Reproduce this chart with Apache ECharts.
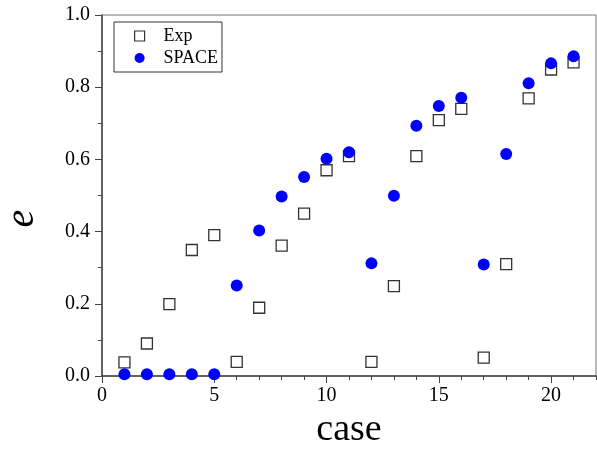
<!DOCTYPE html>
<html>
<head>
<meta charset="utf-8">
<script src="https://cdn.jsdelivr.net/npm/echarts@6/dist/echarts.min.js"></script>
<style>
  html, body { margin: 0; padding: 0; background: #fff; }
  #chart { width: 597px; height: 449px; }
</style>
</head>
<body>
<div id="chart"></div>
<script>
var cases = [1, 2, 3, 4, 5, 6, 7, 8, 9, 10, 11, 12, 13, 14, 15, 16, 17, 18, 19, 20, 21];
var expValues = [0.038, 0.09, 0.199, 0.349, 0.39, 0.039, 0.189, 0.361, 0.45, 0.57, 0.609,
    0.039, 0.249, 0.609, 0.709, 0.74, 0.051, 0.31, 0.769, 0.849, 0.869];
var spaceValues = [0.005, 0.005, 0.005, 0.005, 0.005, 0.251, 0.403, 0.497, 0.551, 0.602, 0.62,
    0.312, 0.499, 0.693, 0.748, 0.771, 0.309, 0.615, 0.811, 0.866, 0.886];

var serif = 'Liberation Serif';
var axisColor = '#444';

function pairs(ys) {
    return cases.map(function (c, i) { return [c, ys[i]]; });
}

var chart = echarts.init(document.getElementById('chart'));
var option = {
    animation: false,
    backgroundColor: '#fff',
    grid: {
        left: 102, right: 1, top: 15, bottom: 73,
        containLabel: false, outerBoundsMode: 'none',
        show: true, borderColor: '#777', borderWidth: 1
    },
    legend: {
        orient: 'vertical',
        left: 114, top: 22,
        padding: [5, 4, 5, 20],
        itemGap: 4,
        itemWidth: 10, itemHeight: 10,
        borderColor: '#333', borderWidth: 1,
        backgroundColor: '#fff',
        textStyle: { fontFamily: serif, fontSize: 18, color: '#000', lineHeight: 18, padding: [0, 0, 0, 14] },
        data: [
            { name: 'Exp', icon: 'rect', itemStyle: { color: '#fff', borderColor: '#333', borderWidth: 1.2 } },
            { name: 'SPACE', icon: 'circle' }
        ]
    },
    xAxis: [{
        type: 'value', min: 0, max: 22, interval: 5,
        name: 'case', nameLocation: 'middle', nameGap: 30,
        nameTextStyle: { fontFamily: serif, fontSize: 38, color: '#000' },
        axisLine: { show: true, lineStyle: { color: axisColor, width: 1.5 } },
        axisTick: { show: true, inside: false, length: 7, lineStyle: { color: axisColor } },
        axisLabel: { fontFamily: serif, fontSize: 20, color: '#000', margin: 10, showMaxLabel: false },
        splitLine: { show: false }
    }, {
        type: 'value', min: 0, max: 22, interval: 1, position: 'bottom',
        axisLine: { show: false },
        axisTick: { show: true, inside: false, length: 4, lineStyle: { color: axisColor } },
        axisLabel: { show: false },
        splitLine: { show: false }
    }],
    yAxis: {
        type: 'value', min: 0, max: 1, interval: 0.2,
        name: 'e', nameLocation: 'middle', nameGap: 60, nameRotate: 90,
        nameTextStyle: { fontFamily: serif, fontSize: 40, fontStyle: 'italic', color: '#000', padding: [0, 46, 0, 0] },
        axisLine: { show: true, lineStyle: { color: axisColor, width: 1.5 } },
        axisTick: { show: true, inside: false, length: 7, lineStyle: { color: axisColor } },
        minorTick: { show: true, splitNumber: 2, length: 4, lineStyle: { color: axisColor } },
        axisLabel: {
            fontFamily: serif, fontSize: 20, color: '#000', margin: 12,
            formatter: function (v) { return v.toFixed(1); }
        },
        splitLine: { show: false }
    },
    series: [{
        name: 'Exp',
        type: 'scatter',
        symbol: 'rect',
        symbolSize: 11,
        itemStyle: { color: '#fff', borderColor: '#333', borderWidth: 1.3, opacity: 1 },
        data: pairs(expValues)
    }, {
        name: 'SPACE',
        type: 'scatter',
        symbol: 'circle',
        symbolSize: 12,
        itemStyle: { color: '#0000ff', opacity: 1 },
        data: pairs(spaceValues)
    }]
};
chart.setOption(option);
</script>
</body>
</html>
